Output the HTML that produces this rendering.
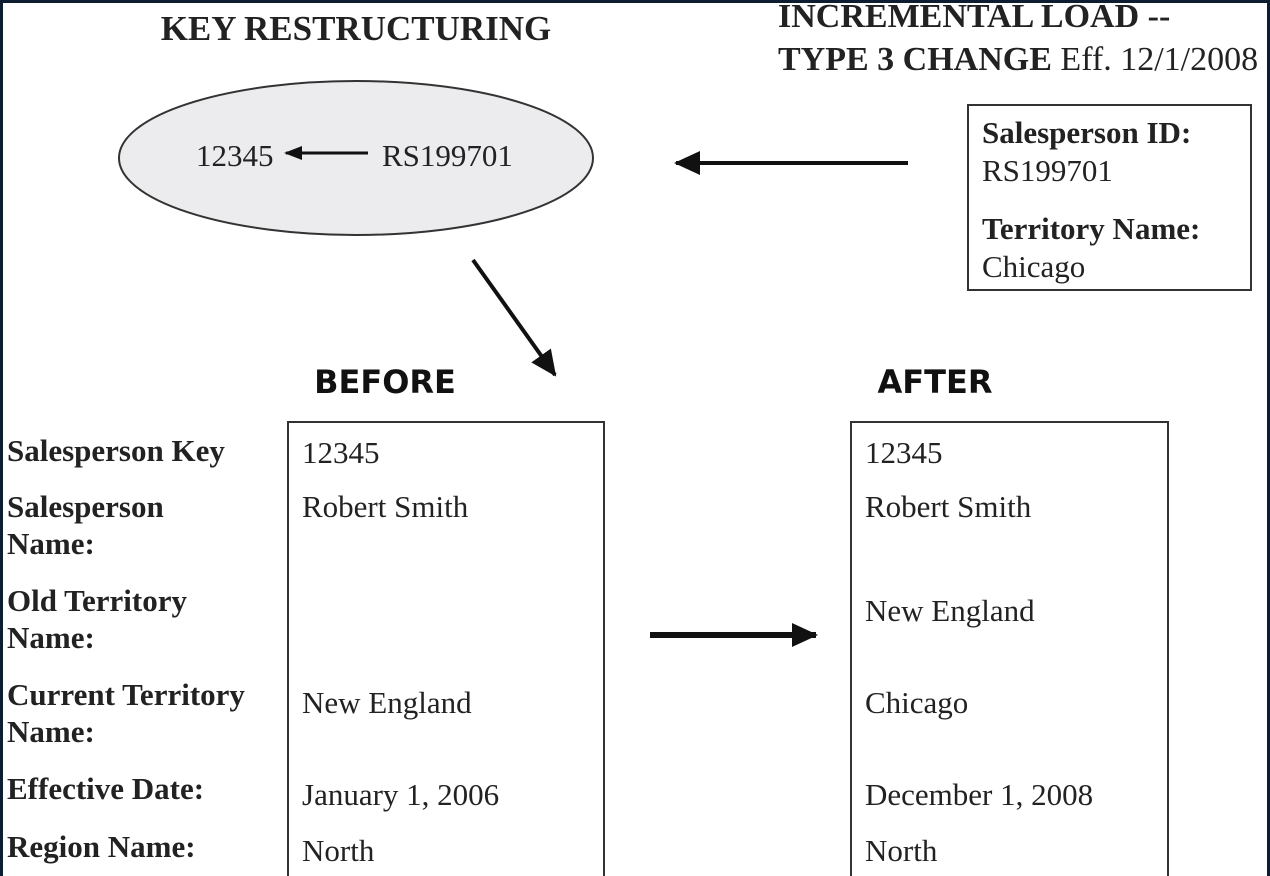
<!DOCTYPE html>
<html><head><meta charset="utf-8"><style>
html,body{margin:0;padding:0;background:#0d1e33;}
svg{display:block}
</style></head><body>
<svg width="1270" height="876" xmlns="http://www.w3.org/2000/svg">
<defs>
<marker id="ahs" markerWidth="18" markerHeight="14" refX="16" refY="7" orient="auto" markerUnits="userSpaceOnUse">
<path d="M0,0 L18,7 L0,14 z" fill="#111"/></marker>
<marker id="ah2" markerWidth="26" markerHeight="24" refX="24" refY="12" orient="auto" markerUnits="userSpaceOnUse">
<path d="M0,0 L26,12 L0,24 z" fill="#111"/></marker>
</defs>
<rect x="3" y="3" width="1264" height="873" fill="#fff"/>
<g font-family="Liberation Serif, serif" fill="#222">
<text x="356" y="40" font-size="35" font-weight="bold" text-anchor="middle">KEY RESTRUCTURING</text>
<text x="778" y="27" font-size="34" font-weight="bold">INCREMENTAL LOAD --</text>
<text x="778" y="70" font-size="34"><tspan font-weight="bold">TYPE 3 CHANGE</tspan> Eff. 12/1/2008</text>

<ellipse cx="356" cy="158" rx="237" ry="77" fill="#ececee" stroke="#333" stroke-width="2"/>
<text x="196" y="166" font-size="31">12345</text>
<text x="382" y="166" font-size="31">RS199701</text>
<line x1="368" y1="153" x2="286" y2="153" stroke="#111" stroke-width="3" marker-end="url(#ahs)"/>

<rect x="968" y="105" width="283" height="185" fill="#fff" stroke="#333" stroke-width="2"/>
<text x="982" y="143" font-size="31" font-weight="bold">Salesperson ID:</text>
<text x="982" y="181" font-size="31">RS199701</text>
<text x="982" y="239" font-size="31" font-weight="bold">Territory Name:</text>
<text x="982" y="277" font-size="31">Chicago</text>

<line x1="908" y1="163" x2="676" y2="163" stroke="#111" stroke-width="4" marker-end="url(#ah2)"/>
<line x1="473" y1="260" x2="555" y2="375" stroke="#111" stroke-width="4" marker-end="url(#ah2)"/>
<line x1="650" y1="635" x2="816" y2="635" stroke="#111" stroke-width="6" marker-end="url(#ah2)"/>

<text x="385" y="393" font-size="32" font-weight="bold" text-anchor="middle" font-family="DejaVu Sans, sans-serif" fill="#111">BEFORE</text>
<text x="935" y="393" font-size="32" font-weight="bold" text-anchor="middle" font-family="DejaVu Sans, sans-serif" fill="#111">AFTER</text>

<rect x="288" y="422" width="316" height="460" fill="#fff" stroke="#333" stroke-width="2"/>
<rect x="851" y="422" width="317" height="460" fill="#fff" stroke="#333" stroke-width="2"/>

<g font-size="31" font-weight="bold">
<text x="7" y="461">Salesperson Key</text>
<text x="7" y="517">Salesperson</text>
<text x="7" y="554">Name:</text>
<text x="7" y="611">Old Territory</text>
<text x="7" y="648">Name:</text>
<text x="7" y="705">Current Territory</text>
<text x="7" y="742">Name:</text>
<text x="7" y="799">Effective Date:</text>
<text x="7" y="857">Region Name:</text>
</g>
<g font-size="31">
<text x="302" y="463">12345</text>
<text x="302" y="517">Robert Smith</text>
<text x="302" y="713">New England</text>
<text x="302" y="805">January 1, 2006</text>
<text x="302" y="861">North</text>
<text x="865" y="463">12345</text>
<text x="865" y="517">Robert Smith</text>
<text x="865" y="621">New England</text>
<text x="865" y="713">Chicago</text>
<text x="865" y="805">December 1, 2008</text>
<text x="865" y="861">North</text>
</g>
</g>
</svg>
</body></html>
